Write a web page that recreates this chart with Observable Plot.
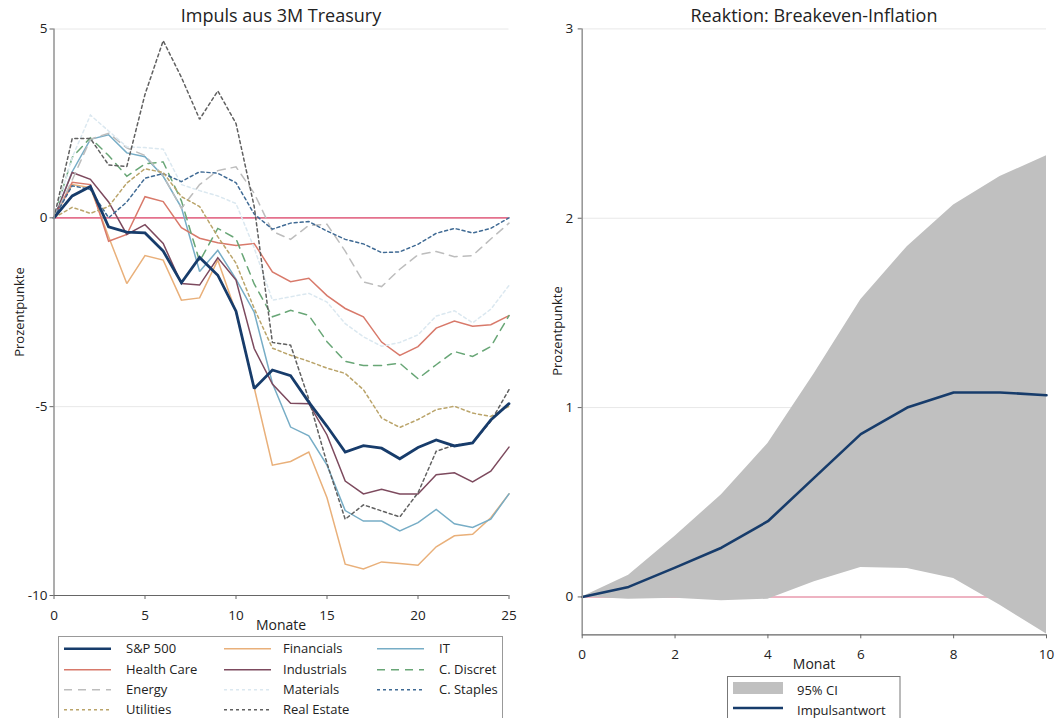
<!DOCTYPE html>
<html>
<head>
<meta charset="utf-8">
<script src="https://cdn.jsdelivr.net/npm/d3@7"></script>
<script src="https://cdn.jsdelivr.net/npm/@observablehq/plot@0.6"></script>
<style>
  html, body { margin: 0; padding: 0; background: #fff; }
  #root { position: relative; width: 1060px; height: 718px; overflow: hidden; font-family: "Open Sans", "Noto Sans", sans-serif; color: #222; }
  .abs { position: absolute; }
  .title { font-size: 18px; white-space: nowrap; transform: translateX(-50%); }
  .axlab { font-size: 14px; white-space: nowrap; transform: translateX(-50%); }
  .ylab { font-size: 13px; white-space: nowrap; transform: translate(-50%, -50%) rotate(-90deg); }
</style>
</head>
<body>
<div id="root"></div>
<script>
// ---------- DATA ----------
const months = d3.range(0, 26);
const seriesNames = ["S&P 500", "Financials", "IT", "Health Care", "Industrials", "C. Discret", "Energy", "Materials", "C. Staples", "Utilities", "Real Estate"];
const sp500       = [0, 0.58, 0.83, -0.24, -0.38, -0.40, -0.88, -1.72, -1.05, -1.52, -2.47, -4.52, -4.03, -4.18, -4.88, -5.52, -6.2, -6.03, -6.1, -6.38, -6.08, -5.88, -6.04, -5.96, -5.35, -4.92];
const financials  = [0, 0.88, 0.8, -0.5, -1.74, -1.0, -1.12, -2.18, -2.12, -1.12, -2.5, -4.5, -6.55, -6.45, -6.2, -7.41, -9.17, -9.3, -9.11, -9.15, -9.2, -8.71, -8.42, -8.38, -7.94, -7.31];
const it          = [0, 1.22, 2.08, 2.2, 1.72, 1.62, 1.1, 0.27, -1.42, -0.86, -1.62, -2.5, -4.38, -5.54, -5.77, -6.55, -7.75, -8.03, -8.03, -8.29, -8.07, -7.72, -8.1, -8.2, -7.98, -7.31];
const healthCare  = [0, 0.94, 0.88, -0.62, -0.44, 0.56, 0.43, -0.26, -0.54, -0.66, -0.73, -0.68, -1.43, -1.69, -1.6, -2.06, -2.4, -2.62, -3.29, -3.64, -3.41, -2.92, -2.73, -2.87, -2.83, -2.59];
const industrials = [0, 1.2, 1.02, 0.42, -0.44, -0.18, -0.68, -1.74, -1.78, -1.06, -1.65, -3.46, -4.4, -4.91, -4.92, -5.75, -6.97, -7.31, -7.19, -7.31, -7.31, -6.8, -6.75, -6.99, -6.71, -6.07];
const cDiscret    = [0, 1.6, 2.12, 1.65, 1.1, 1.43, 1.48, 0.45, -1.15, -0.28, -0.55, -1.75, -2.62, -2.45, -2.58, -3.28, -3.8, -3.91, -3.91, -3.85, -4.26, -3.89, -3.54, -3.67, -3.41, -2.59];
const energy      = [0, 1.0, 2.08, 2.24, 1.85, 1.65, 1.12, 0.25, 0.88, 1.25, 1.35, 0.65, -0.36, -0.57, -0.2, -0.17, -0.88, -1.7, -1.82, -1.36, -0.98, -0.89, -1.03, -1.0, -0.56, -0.14];
const materials   = [0, 1.6, 2.72, 2.3, 1.88, 1.86, 1.82, 0.88, 0.72, 0.58, 0.38, -0.8, -2.18, -2.09, -2.0, -2.23, -2.8, -3.15, -3.4, -3.3, -3.1, -2.6, -2.46, -2.78, -2.42, -1.79];
const cStaples    = [0, 0.85, 0.75, 0.0, 0.42, 1.05, 1.17, 0.96, 1.22, 1.18, 0.93, 0.1, -0.3, -0.14, -0.1, -0.35, -0.57, -0.69, -0.92, -0.9, -0.7, -0.41, -0.28, -0.4, -0.28, 0.0];
const utilities   = [0, 0.28, 0.12, 0.3, 0.92, 1.3, 1.2, 0.56, 0.3, -0.5, -1.2, -2.4, -3.45, -3.64, -3.8, -3.98, -4.12, -4.55, -5.3, -5.55, -5.34, -5.08, -4.99, -5.17, -5.26, -4.99];
const realEstate  = [0, 2.1, 2.1, 1.4, 1.36, 3.27, 4.69, 3.72, 2.61, 3.36, 2.5, 0.3, -3.3, -3.37, -4.8, -6.5, -7.98, -7.6, -7.76, -7.92, -7.28, -6.18, -6.02, -5.96, -5.39, -4.55];
const leftXTicks = [0, 5, 10, 15, 20, 25];
const leftYTicks = [-10, -5, 0, 5];

const months10 = d3.range(0, 11);
const irf     = [0, 0.053, 0.155, 0.26, 0.40, 0.63, 0.86, 1.0, 1.08, 1.08, 1.065];
const ciUpper = [0, 0.114, 0.32, 0.54, 0.81, 1.18, 1.57, 1.85, 2.07, 2.22, 2.33];
const ciLower = [0, -0.012, -0.007, -0.02, -0.012, 0.08, 0.155, 0.15, 0.097, -0.044, -0.196];
const rightXTicks = [0, 2, 4, 6, 8, 10];
const rightYTicks = [0, 1, 2, 3];

// ---------- STYLES ----------
const seriesValues = [sp500, financials, it, healthCare, industrials, cDiscret, energy, materials, cStaples, utilities, realEstate];
const styles = {
  "S&P 500":     {stroke: "#173c6b", width: 2.8, dash: null},
  "Financials":  {stroke: "#e9b07a", width: 1.5, dash: null},
  "IT":          {stroke: "#77adc6", width: 1.5, dash: null},
  "Health Care": {stroke: "#d8796a", width: 1.5, dash: null},
  "Industrials": {stroke: "#7d4a5e", width: 1.5, dash: null},
  "C. Discret":  {stroke: "#68a676", width: 1.5, dash: "8,6"},
  "Energy":      {stroke: "#bdbdbd", width: 1.5, dash: "8,6"},
  "Materials":   {stroke: "#dbe8f0", width: 1.5, dash: "3,3"},
  "C. Staples":  {stroke: "#3f6a94", width: 1.5, dash: "3,3"},
  "Utilities":   {stroke: "#baa46a", width: 1.5, dash: "3,3"},
  "Real Estate": {stroke: "#606060", width: 1.5, dash: "3,3"}
};
const pink = "#e4718d";

const rows = [];
seriesNames.forEach((name, k) => months.forEach((m, i) => rows.push({series: name, month: m, value: seriesValues[k][i]})));

const root = document.getElementById("root");
const fmt = d => String(d);

// ---------- LEFT PANEL ----------
const drawOrder = seriesNames.slice(1).concat(["S&P 500"]);
const left = Plot.plot({
  width: 530, height: 640,
  marginLeft: 53.5, marginRight: 21.5, marginTop: 28.5, marginBottom: 45,
  x: {domain: [0, 25]},
  y: {domain: [-10, 5]},
  style: {fontFamily: "Open Sans, Noto Sans, sans-serif", fontSize: "13.5px", color: "#222", background: "transparent", overflow: "visible"},
  marks: [
    Plot.gridY([5, -5], {stroke: "#e8e8e8", strokeOpacity: 1}),
    Plot.ruleY([0], {stroke: pink, strokeWidth: 1.6}),
    ...drawOrder.map(name => Plot.line(rows.filter(r => r.series === name), {
      x: "month", y: "value",
      stroke: styles[name].stroke, strokeWidth: styles[name].width,
      strokeDasharray: styles[name].dash, strokeLinejoin: "miter", strokeMiterlimit: 2
    })),
    Plot.ruleX([0], {stroke: "#999", strokeWidth: 1.6}),
    Plot.ruleY([-10], {stroke: "#666", strokeWidth: 1.2}),
    Plot.axisX({ticks: leftXTicks, tickSize: 4, tickPadding: 11, tickFormat: fmt, label: null, stroke: "#666"}),
    Plot.axisY({ticks: leftYTicks, tickSize: 4, tickPadding: 2.5, tickFormat: fmt, label: null, stroke: "#666"})
  ]
});
left.style.position = "absolute"; left.style.left = "0px"; left.style.top = "0px";
root.appendChild(left);

// ---------- RIGHT PANEL ----------
const ciRows = months10.map((m, i) => ({month: m, lo: ciLower[i], hi: ciUpper[i], irf: irf[i]}));
const right = Plot.plot({
  width: 530, height: 680,
  marginLeft: 51.7, marginRight: 14, marginTop: 28.4, marginBottom: 45.7,
  x: {domain: [0, 10]},
  y: {domain: [-0.2, 3]},
  style: {fontFamily: "Open Sans, Noto Sans, sans-serif", fontSize: "13.5px", color: "#222", background: "transparent", overflow: "visible"},
  marks: [
    Plot.gridY([1, 2, 3], {stroke: "#e8e8e8", strokeOpacity: 1}),
    Plot.ruleY([0], {stroke: "#e89aae", strokeWidth: 1.6}),
    Plot.areaY(ciRows, {x: "month", y1: "lo", y2: "hi", fill: "#c0c0c0", fillOpacity: 1}),
    Plot.line(ciRows, {x: "month", y: "irf", stroke: "#173c6b", strokeWidth: 2.6}),
    Plot.ruleX([0], {stroke: "#999", strokeWidth: 1.6}),
    Plot.ruleY([-0.2], {stroke: "#666", strokeWidth: 1.2}),
    Plot.axisX({ticks: rightXTicks, tickSize: 4, tickPadding: 11, tickFormat: fmt, label: null, stroke: "#666"}),
    Plot.axisY({ticks: rightYTicks, tickSize: 4, tickPadding: 5, tickFormat: fmt, label: null, stroke: "#666"})
  ]
});
right.style.position = "absolute"; right.style.left = "530px"; right.style.top = "0px";
root.appendChild(right);

// ---------- TEXT ----------
function addText(cls, txt, x, y) {
  const d = document.createElement("div");
  d.className = "abs " + cls;
  d.textContent = txt;
  d.style.left = x + "px"; d.style.top = y + "px";
  root.appendChild(d);
  return d;
}
addText("title", "Impuls aus 3M Treasury", 281, 3);
addText("title", "Reaktion: Breakeven-Inflation", 814, 3);
addText("axlab", "Monate", 281, 615);
addText("axlab", "Monat", 814, 654);
const yl1 = addText("ylab", "Prozentpunkte", 18.5, 312); 
const yl2 = addText("ylab", "Prozentpunkte", 557, 331);

// ---------- LEGENDS ----------
const svg = d3.select(root).append("svg")
  .attr("width", 1060).attr("height", 718)
  .style("position", "absolute").style("left", "0px").style("top", "0px")
  .style("font-family", "Open Sans, Noto Sans, sans-serif").style("font-size", "13px");

svg.append("rect").attr("x", 58.5).attr("y", 636.5).attr("width", 444).attr("height", 100)
  .attr("fill", "#fff").attr("stroke", "#999").attr("stroke-width", 1);
const keyX = [64, 224, 377], textX = [126, 283, 439], rowY = [648.7, 669.7, 689.7, 709.7];
seriesNames.forEach((name, k) => {
  const col = k % 3, row = Math.floor(k / 3);
  const s = styles[name];
  svg.append("line").attr("x1", keyX[col]).attr("x2", keyX[col] + 47)
    .attr("y1", rowY[row]).attr("y2", rowY[row])
    .attr("stroke", s.stroke).attr("stroke-width", name === "S&P 500" ? 2.6 : 1.6)
    .attr("stroke-dasharray", s.dash);
  svg.append("text").attr("x", textX[col]).attr("y", rowY[row]).attr("dy", "0.35em")
    .attr("fill", "#222").text(name);
});

svg.append("rect").attr("x", 727.5).attr("y", 676.5).attr("width", 172.5).attr("height", 60)
  .attr("fill", "#fff").attr("stroke", "#777").attr("stroke-width", 1);
svg.append("rect").attr("x", 733).attr("y", 682).attr("width", 50).attr("height", 12).attr("fill", "#c0c0c0");
svg.append("text").attr("x", 797).attr("y", 690).attr("dy", "0.35em").attr("fill", "#222").text("95% CI");
svg.append("line").attr("x1", 733).attr("x2", 783).attr("y1", 708).attr("y2", 708)
  .attr("stroke", "#173c6b").attr("stroke-width", 2.6);
svg.append("text").attr("x", 797).attr("y", 710).attr("dy", "0.35em").attr("fill", "#222").text("Impulsantwort");
</script>
</body>
</html>
